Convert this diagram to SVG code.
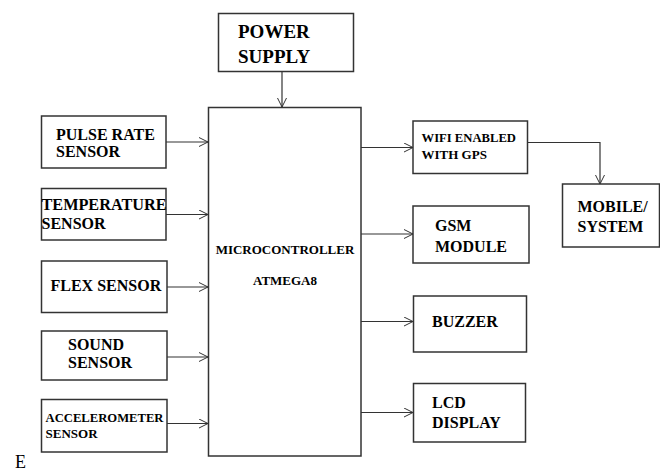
<svg xmlns="http://www.w3.org/2000/svg" width="660" height="473" viewBox="0 0 660 473">
<style>
.box{fill:#fff;stroke:#333;stroke-width:1.5}
.t{font-family:"Liberation Serif","Times New Roman",serif;font-weight:bold;fill:#000;font-size:16px}
.s{font-size:13px}
.m{font-size:13px}
.c{fill:none;stroke:#333;stroke-width:1.2}
</style>
<defs>
<marker id="ar" viewBox="0 0 10 10" refX="10" refY="5" markerWidth="10" markerHeight="10" markerUnits="userSpaceOnUse" orient="auto">
<path d="M1,0.5 L10,5 L1,9.5" fill="none" stroke="#333" stroke-width="1"/>
</marker>
</defs>
<rect width="660" height="473" fill="#fff"/>
<g id="connectors">
<path class="c" d="M282,72 V107" marker-end="url(#ar)"/>
<path class="c" d="M166,142 H208" marker-end="url(#ar)"/>
<path class="c" d="M166,214.5 H208" marker-end="url(#ar)"/>
<path class="c" d="M167,287 H208" marker-end="url(#ar)"/>
<path class="c" d="M167,357 H208" marker-end="url(#ar)"/>
<path class="c" d="M167,423.5 H208" marker-end="url(#ar)"/>
<path class="c" d="M361,147.5 H413" marker-end="url(#ar)"/>
<path class="c" d="M361,234 H413" marker-end="url(#ar)"/>
<path class="c" d="M361,321.5 H413" marker-end="url(#ar)"/>
<path class="c" d="M361,412.5 H413" marker-end="url(#ar)"/>
<path class="c" d="M527,142.5 H600 V184" marker-end="url(#ar)"/>
</g>
<g id="power">
<rect class="box" x="218.5" y="13.5" width="135" height="58"/>
<text class="t" style="font-size:19px" x="238" y="38">POWER</text>
<text class="t" style="font-size:19px" x="238" y="62.5">SUPPLY</text>
</g>
<g id="micro">
<rect class="box" x="208.5" y="107.5" width="152.5" height="348.5"/>
<text class="t m" x="285" y="254" text-anchor="middle">MICROCONTROLLER</text>
<text class="t m" x="285" y="285" text-anchor="middle">ATMEGA8</text>
</g>
<g id="pulse">
<rect class="box" x="41.5" y="116" width="124.5" height="52"/>
<text class="t" x="56" y="139.5">PULSE RATE</text>
<text class="t" x="56" y="157">SENSOR</text>
</g>
<g id="temp">
<rect class="box" x="41.5" y="188.5" width="124.5" height="51.5"/>
<text class="t" x="41.5" y="210" textLength="125" lengthAdjust="spacingAndGlyphs">TEMPERATURE</text>
<text class="t" x="41.5" y="228.5">SENSOR</text>
</g>
<g id="flex">
<rect class="box" x="41.5" y="261" width="125.5" height="51.5"/>
<text class="t" x="50.5" y="291">FLEX SENSOR</text>
</g>
<g id="sound">
<rect class="box" x="41.5" y="331" width="125.5" height="49"/>
<text class="t" x="68" y="350">SOUND</text>
<text class="t" x="68" y="367.5">SENSOR</text>
</g>
<g id="accel">
<rect class="box" x="41.5" y="399.5" width="125.5" height="52.5"/>
<text class="t s" x="45.5" y="421.5" textLength="118" lengthAdjust="spacingAndGlyphs">ACCELEROMETER</text>
<text class="t s" x="45.5" y="437.5">SENSOR</text>
</g>
<g id="wifi">
<rect class="box" x="413" y="121" width="114.5" height="52.5"/>
<text class="t s" x="421.5" y="141.5" textLength="94.5" lengthAdjust="spacingAndGlyphs">WIFI ENABLED</text>
<text class="t s" x="421.5" y="158.5">WITH GPS</text>
</g>
<g id="mobile">
<rect class="box" x="562.5" y="184" width="97" height="63"/>
<text class="t" x="577.5" y="211.5">MOBILE/</text>
<text class="t" x="577.5" y="231.5">SYSTEM</text>
</g>
<g id="gsm">
<rect class="box" x="413" y="206" width="116" height="57"/>
<text class="t" x="435" y="231">GSM</text>
<text class="t" x="435" y="251.5">MODULE</text>
</g>
<g id="buzzer">
<rect class="box" x="413.5" y="296" width="113" height="56"/>
<text class="t" x="432" y="326.5">BUZZER</text>
</g>
<g id="lcd">
<rect class="box" x="413.5" y="383.5" width="112" height="58.5"/>
<text class="t" x="432" y="407.5">LCD</text>
<text class="t" x="432" y="427.5">DISPLAY</text>
</g>
<text x="15" y="468" style="font-family:'Liberation Serif','Times New Roman',serif;font-size:18px;fill:#000">E</text>
</svg>
